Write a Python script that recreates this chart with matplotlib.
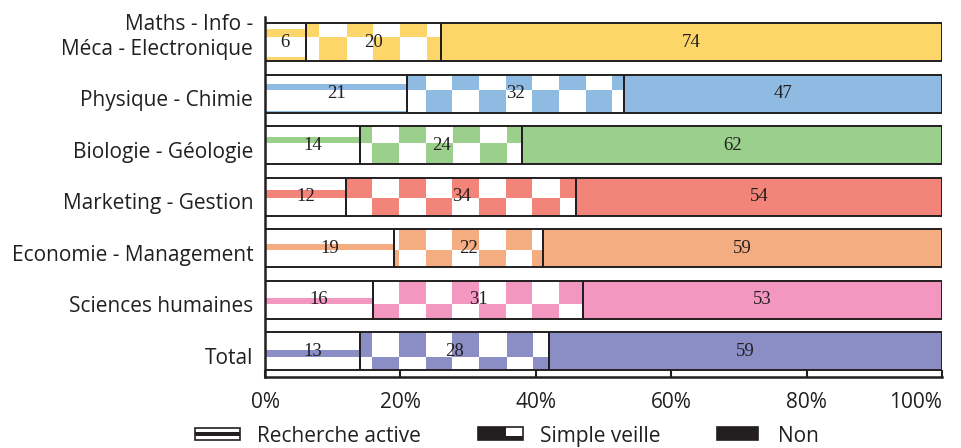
import numpy as np
import matplotlib
matplotlib.use("Agg")
import matplotlib.pyplot as plt
from matplotlib.colors import to_rgb
from matplotlib.patches import Rectangle

plt.rcParams['font.family'] = ['Open Sans', 'DejaVu Sans']

CATEGORIES = ["Maths - Info -\nMéca - Electronique", "Physique - Chimie",
              "Biologie - Géologie", "Marketing - Gestion",
              "Economie - Management", "Sciences humaines", "Total"]
# bar lengths (%) as drawn
RECHERCHE = [6, 21, 14, 12, 19, 16, 14]
VEILLE = [20, 32, 24, 34, 22, 31, 28]
NON = [74, 47, 62, 54, 59, 53, 58]
# numbers printed in the bars
RECHERCHE_TXT = ["6", "21", "14", "12", "19", "16", "13"]
VEILLE_TXT = ["20", "32", "24", "34", "22", "31", "28"]
NON_TXT = ["74", "47", "62", "54", "59", "53", "59"]
COLORS = ["#FDD66A", "#8FBBE3", "#9BD08C", "#F28479", "#F4AD80", "#F497C0", "#8B8DC5"]
XTICKS = [0, 20, 40, 60, 80, 100]
LEGEND = ["Recherche active", "Simple veille", "Non"]

DARK = "#231F20"
W, H = 961, 448

# axes box in pixels
AX_L, AX_R, AX_T, AX_B = 265, 942, 16.5, 377

fig = plt.figure(figsize=(W / 100, H / 100), dpi=100)
ax = fig.add_axes([AX_L / W, 1 - AX_B / H, (AX_R - AX_L) / W, (AX_B - AX_T) / H])
n = len(CATEGORIES)

# page aligned fill textures (stripes and checker), in pixels
TILE = 26.67
px = np.arange(int(AX_R - AX_L)) + 0.5 + AX_L
py = np.arange(int(AX_B - AX_T)) + 0.5 + AX_T
PX, PY = np.meshgrid(px, py)
stripes = ((PY - 10.6) % TILE) >= TILE - 6.6
checker = ((np.floor((PX - 265.7) / TILE) + np.floor((PY - 10.6) / TILE)) % 2) == 1


def texture(mask, color):
    rgba = np.zeros(mask.shape + (4,))
    rgba[..., :3] = to_rgb(color)
    rgba[..., 3] = mask
    return rgba


BAR_H = 0.74
for i in range(n):
    widths = [RECHERCHE[i], VEILLE[i], NON[i]]
    texts = [RECHERCHE_TXT[i], VEILLE_TXT[i], NON_TXT[i]]
    lefts = [0, RECHERCHE[i], RECHERCHE[i] + VEILLE[i]]
    faces = ["white", "white", COLORS[i]]
    masks = [stripes, checker, None]
    for left, w, txt, face, mask in zip(lefts, widths, texts, faces, masks):
        bar = ax.barh(i, w, left=left, height=BAR_H, color=face, edgecolor="none", zorder=1)[0]
        if mask is not None:
            im = ax.imshow(texture(mask, COLORS[i]), extent=(0, 100, n - 0.5, -0.5),
                           interpolation="nearest", aspect="auto", zorder=2)
            im.set_clip_path(bar)
        ax.barh(i, w, left=left, height=BAR_H, color="none", edgecolor=DARK,
                linewidth=1.4, zorder=3)
        ax.text(left + w / 2, i, txt, ha="center", va="center", fontsize=13.5,
                family="Liberation Serif", color=DARK, zorder=4)

    dy = -9.4 if "\n" in CATEGORIES[i] else -9
    ax.annotate(CATEGORIES[i], xy=(0, i), xycoords=("axes fraction", "data"),
                xytext=(-8.5, dy), textcoords="offset points", ha="right",
                va="baseline", fontsize=15, color=DARK, linespacing=1.3,
                multialignment="right")

ax.set_xlim(0, 100)
ax.set_ylim(n - 0.5, -0.5)
ax.set_yticks([])
ax.set_xticks(XTICKS)
ax.set_xticklabels([f"{t}%" for t in XTICKS])
ax.get_xticklabels()[-1].set_ha("right")
ax.tick_params(axis="x", direction="in", length=5, width=1.5, color=DARK,
               labelsize=15, labelcolor=DARK, pad=10.5)
for s in ["top", "right"]:
    ax.spines[s].set_visible(False)
for s in ["left", "bottom"]:
    ax.spines[s].set_linewidth(1.8)
    ax.spines[s].set_color(DARK)


# legend drawn under the axes, positions in pixels
def fig_rect(x0, y0, x1, y1, **kw):
    fig.add_artist(Rectangle((x0 / W, 1 - y1 / H), (x1 - x0) / W, (y1 - y0) / H,
                             transform=fig.transFigure, **kw))


fig_rect(195, 428, 240, 440, facecolor="white", edgecolor=DARK, linewidth=1.2)
fig_rect(195, 431.7, 240, 435.7, facecolor=DARK, edgecolor="none")
fig_rect(478, 427, 523, 440, facecolor="white", edgecolor=DARK, linewidth=1.2)
fig_rect(478, 427, 505.7, 440, facecolor=DARK, edgecolor="none")
fig_rect(505.7, 435.7, 523, 440, facecolor=DARK, edgecolor="none")
fig_rect(717, 427, 758, 440, facecolor=DARK, edgecolor=DARK, linewidth=1.2)

for x, label in zip([257, 540, 778], LEGEND):
    fig.text(x / W, 1 - 441.5 / H, label, ha="left", va="baseline", fontsize=15, color=DARK)

fig.savefig("out.png", dpi=100)
